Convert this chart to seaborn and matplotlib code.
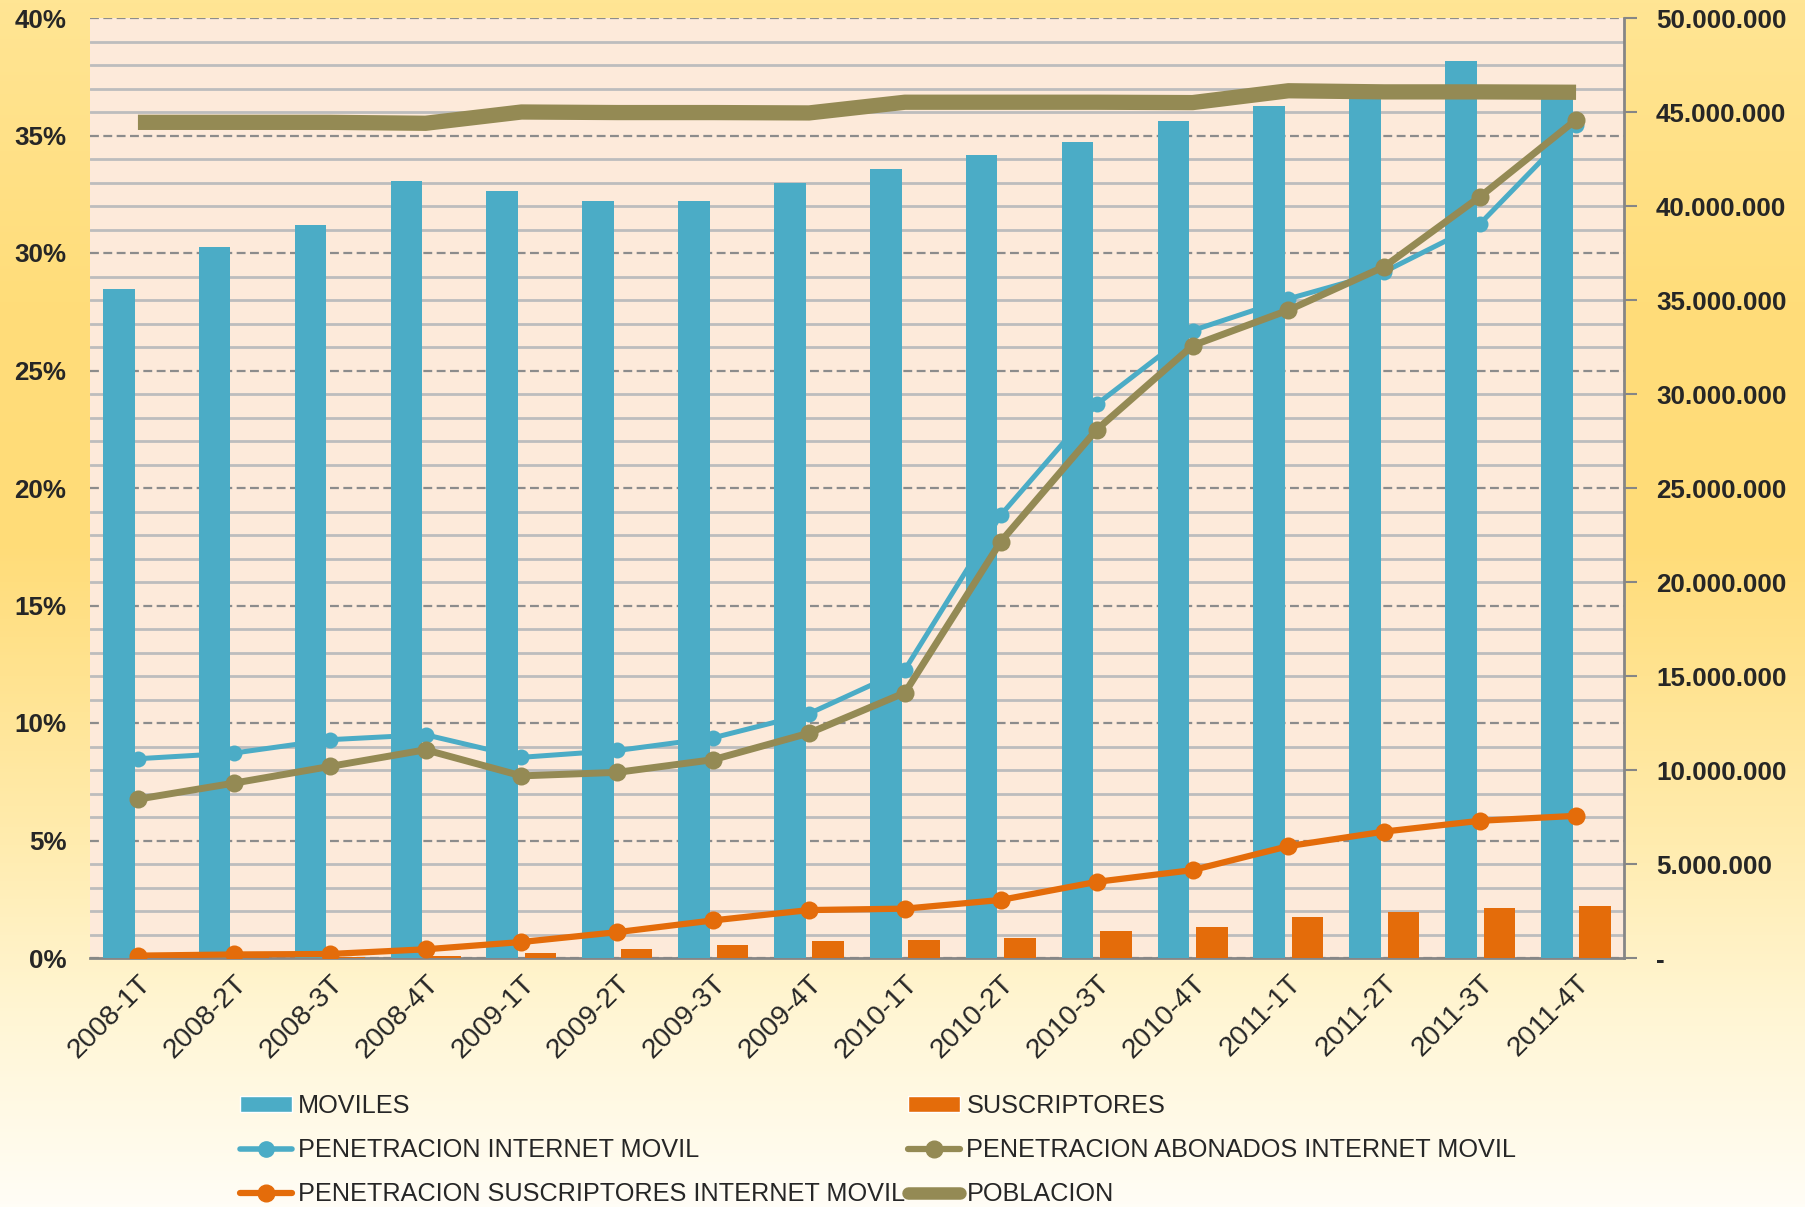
import numpy as np
import pandas as pd
import matplotlib
matplotlib.use("Agg")
import matplotlib.pyplot as plt
import seaborn as sns
from matplotlib.ticker import FuncFormatter, MultipleLocator
from matplotlib.patches import Patch
from matplotlib.lines import Line2D

# datos
quarters = ["2008-1T", "2008-2T", "2008-3T", "2008-4T",
            "2009-1T", "2009-2T", "2009-3T", "2009-4T",
            "2010-1T", "2010-2T", "2010-3T", "2010-4T",
            "2011-1T", "2011-2T", "2011-3T", "2011-4T"]
moviles = [35.6e6, 37.8e6, 39.0e6, 41.35e6, 40.8e6, 40.25e6, 40.25e6, 41.2e6,
           41.95e6, 42.7e6, 43.4e6, 44.5e6, 45.3e6, 46.2e6, 47.7e6, 46.0e6]
suscriptores = [0.02e6, 0.03e6, 0.05e6, 0.12e6, 0.28e6, 0.46e6, 0.68e6, 0.91e6,
                0.94e6, 1.09e6, 1.46e6, 1.67e6, 2.19e6, 2.46e6, 2.68e6, 2.79e6]
pen_internet = [8.48, 8.72, 9.29, 9.5, 8.54, 8.83, 9.37, 10.4,
                12.27, 18.85, 23.56, 26.7, 28.05, 29.2, 31.25, 35.45]
pen_abonados = [6.76, 7.44, 8.15, 8.86, 7.75, 7.9, 8.44, 9.57,
                11.29, 17.72, 22.48, 26.06, 27.57, 29.42, 32.4, 35.67]
pen_suscriptores = [0.1, 0.15, 0.17, 0.37, 0.68, 1.1, 1.6, 2.04,
                    2.1, 2.47, 3.24, 3.74, 4.76, 5.38, 5.84, 6.05]
poblacion = [44.45e6, 44.45e6, 44.45e6, 44.4e6, 45.0e6, 44.97e6, 44.97e6, 44.95e6,
             45.52e6, 45.52e6, 45.52e6, 45.5e6, 46.13e6, 46.07e6, 46.07e6, 46.05e6]

BLUE = "#4BACC6"
ORANGE = "#E46C0A"
OLIVE = "#948A54"

sns.set_theme(style="white")
plt.rcParams["font.family"] = ["Liberation Sans", "DejaVu Sans"]

fig = plt.figure(figsize=(18.06, 12.07), dpi=100)

# fondo degradado amarillo
stops = [0.0, 0.25, 0.45, 0.7, 0.85, 1.0]
cols = np.array([[255, 229, 148], [255, 221, 122], [255, 220, 120],
                 [255, 236, 175], [255, 246, 214], [255, 253, 246]]) / 255
t = np.linspace(0, 1, 400)
grad = np.stack([np.interp(t, stops, cols[:, i]) for i in range(3)], axis=1)[:, None, :]
bg = fig.add_axes([0, 0, 1, 1], zorder=-10)
bg.imshow(grad, aspect="auto", extent=[0, 1, 0, 1])
bg.axis("off")

ax = fig.add_axes([90 / 1806, 1 - 958 / 1207, (1624 - 90) / 1806, 940 / 1207])
ax.set_facecolor("#FDEADA")
ax2 = ax.twinx()
ax3 = ax.twinx()

# barras
df_bars = pd.DataFrame({
    "Trimestre": quarters * 2,
    "Serie": ["MOVILES"] * len(quarters) + ["SUSCRIPTORES"] * len(quarters),
    "Valor": moviles + suscriptores,
})
sns.barplot(data=df_bars, x="Trimestre", y="Valor", hue="Serie",
            palette=[BLUE, ORANGE], width=0.8, gap=0.175, errorbar=None,
            legend=False, saturation=1, linewidth=0, edgecolor="none", ax=ax2)

xpos = np.arange(len(quarters))
sns.lineplot(x=xpos, y=poblacion, ax=ax2, color=OLIVE, lw=11,
             solid_capstyle="butt", solid_joinstyle="round")

# lineas de penetracion
sns.lineplot(x=xpos, y=pen_internet, ax=ax3, color=BLUE, lw=3.6,
             marker="o", markersize=11.5, markeredgewidth=0)
sns.lineplot(x=xpos, y=pen_abonados, ax=ax3, color=OLIVE, lw=5,
             marker="o", markersize=13, markeredgewidth=0)
sns.lineplot(x=xpos, y=pen_suscriptores, ax=ax3, color=ORANGE, lw=4.5,
             marker="o", markersize=13, markeredgewidth=0)

ax.set_xlim(-0.5, len(quarters) - 0.5)
ax.set_ylim(0, 40)
ax3.set_ylim(0, 40)
ax2.set_ylim(0, 50e6)

# rejilla
ax.yaxis.set_major_locator(MultipleLocator(5))
ax.yaxis.set_minor_locator(MultipleLocator(1))
ax.grid(which="minor", axis="y", color="#BDBDBD", ls="-", lw=2)
ax.grid(which="major", axis="y", color="#8C8C8C", ls=(0, (4, 2)), lw=1.6)
ax.grid(which="both", axis="x", visible=False)
ax.yaxis.set_major_formatter(FuncFormatter(lambda v, p: f"{v:.0f}%"))
ax.tick_params(axis="y", which="both", length=0, pad=17, labelsize=18.7)

ax2.yaxis.set_major_locator(MultipleLocator(5e6))
ax2.yaxis.set_major_formatter(FuncFormatter(
    lambda v, p: "-" if v == 0 else f"{v:,.0f}".replace(",", ".")))
ax2.tick_params(axis="y", direction="out", length=9, width=1.5,
                color="#868686", pad=14, labelsize=18.7, right=True)
ax2.set_ylabel("")
ax2.set_xlabel("")
ax3.yaxis.set_visible(False)

ax.set_xticks(xpos)
ax.set_xticklabels(quarters, rotation=45, ha="right", rotation_mode="anchor",
                   fontsize=20.3)
ax.tick_params(axis="x", length=0, pad=9)

for a in (ax, ax2, ax3):
    for s in a.spines.values():
        s.set_visible(False)
ax.spines["bottom"].set_visible(True)
ax.spines["bottom"].set_color("#868686")
ax.spines["bottom"].set_linewidth(2)
ax2.spines["right"].set_visible(True)
ax2.spines["right"].set_color("#868686")
ax2.spines["right"].set_linewidth(2)

# leyenda
handles = [
    Patch(facecolor=BLUE),
    Line2D([], [], color=BLUE, lw=4, marker="o", ms=11),
    Line2D([], [], color=ORANGE, lw=4.5, marker="o", ms=12),
    Patch(facecolor=ORANGE),
    Line2D([], [], color=OLIVE, lw=4.5, marker="o", ms=12),
    Line2D([], [], color=OLIVE, lw=9),
]
labels = ["MOVILES", "PENETRACION INTERNET MOVIL",
          "PENETRACION SUSCRIPTORES INTERNET MOVIL",
          "SUSCRIPTORES", "PENETRACION ABONADOS INTERNET MOVIL", "POBLACION"]
fig.legend(handles, labels, loc="upper left", bbox_to_anchor=(240 / 1806, 1 - 1094 / 1207),
           ncol=2, frameon=False, fontsize=18.2, handlelength=2.05, handleheight=0.55,
           handletextpad=0.25, columnspacing=0.12, labelspacing=0.8,
           borderpad=0, borderaxespad=0)

for lab in ax.get_yticklabels() + ax2.get_yticklabels():
    lab.set_fontweight("bold")

fig.savefig("out.png", dpi=100)
